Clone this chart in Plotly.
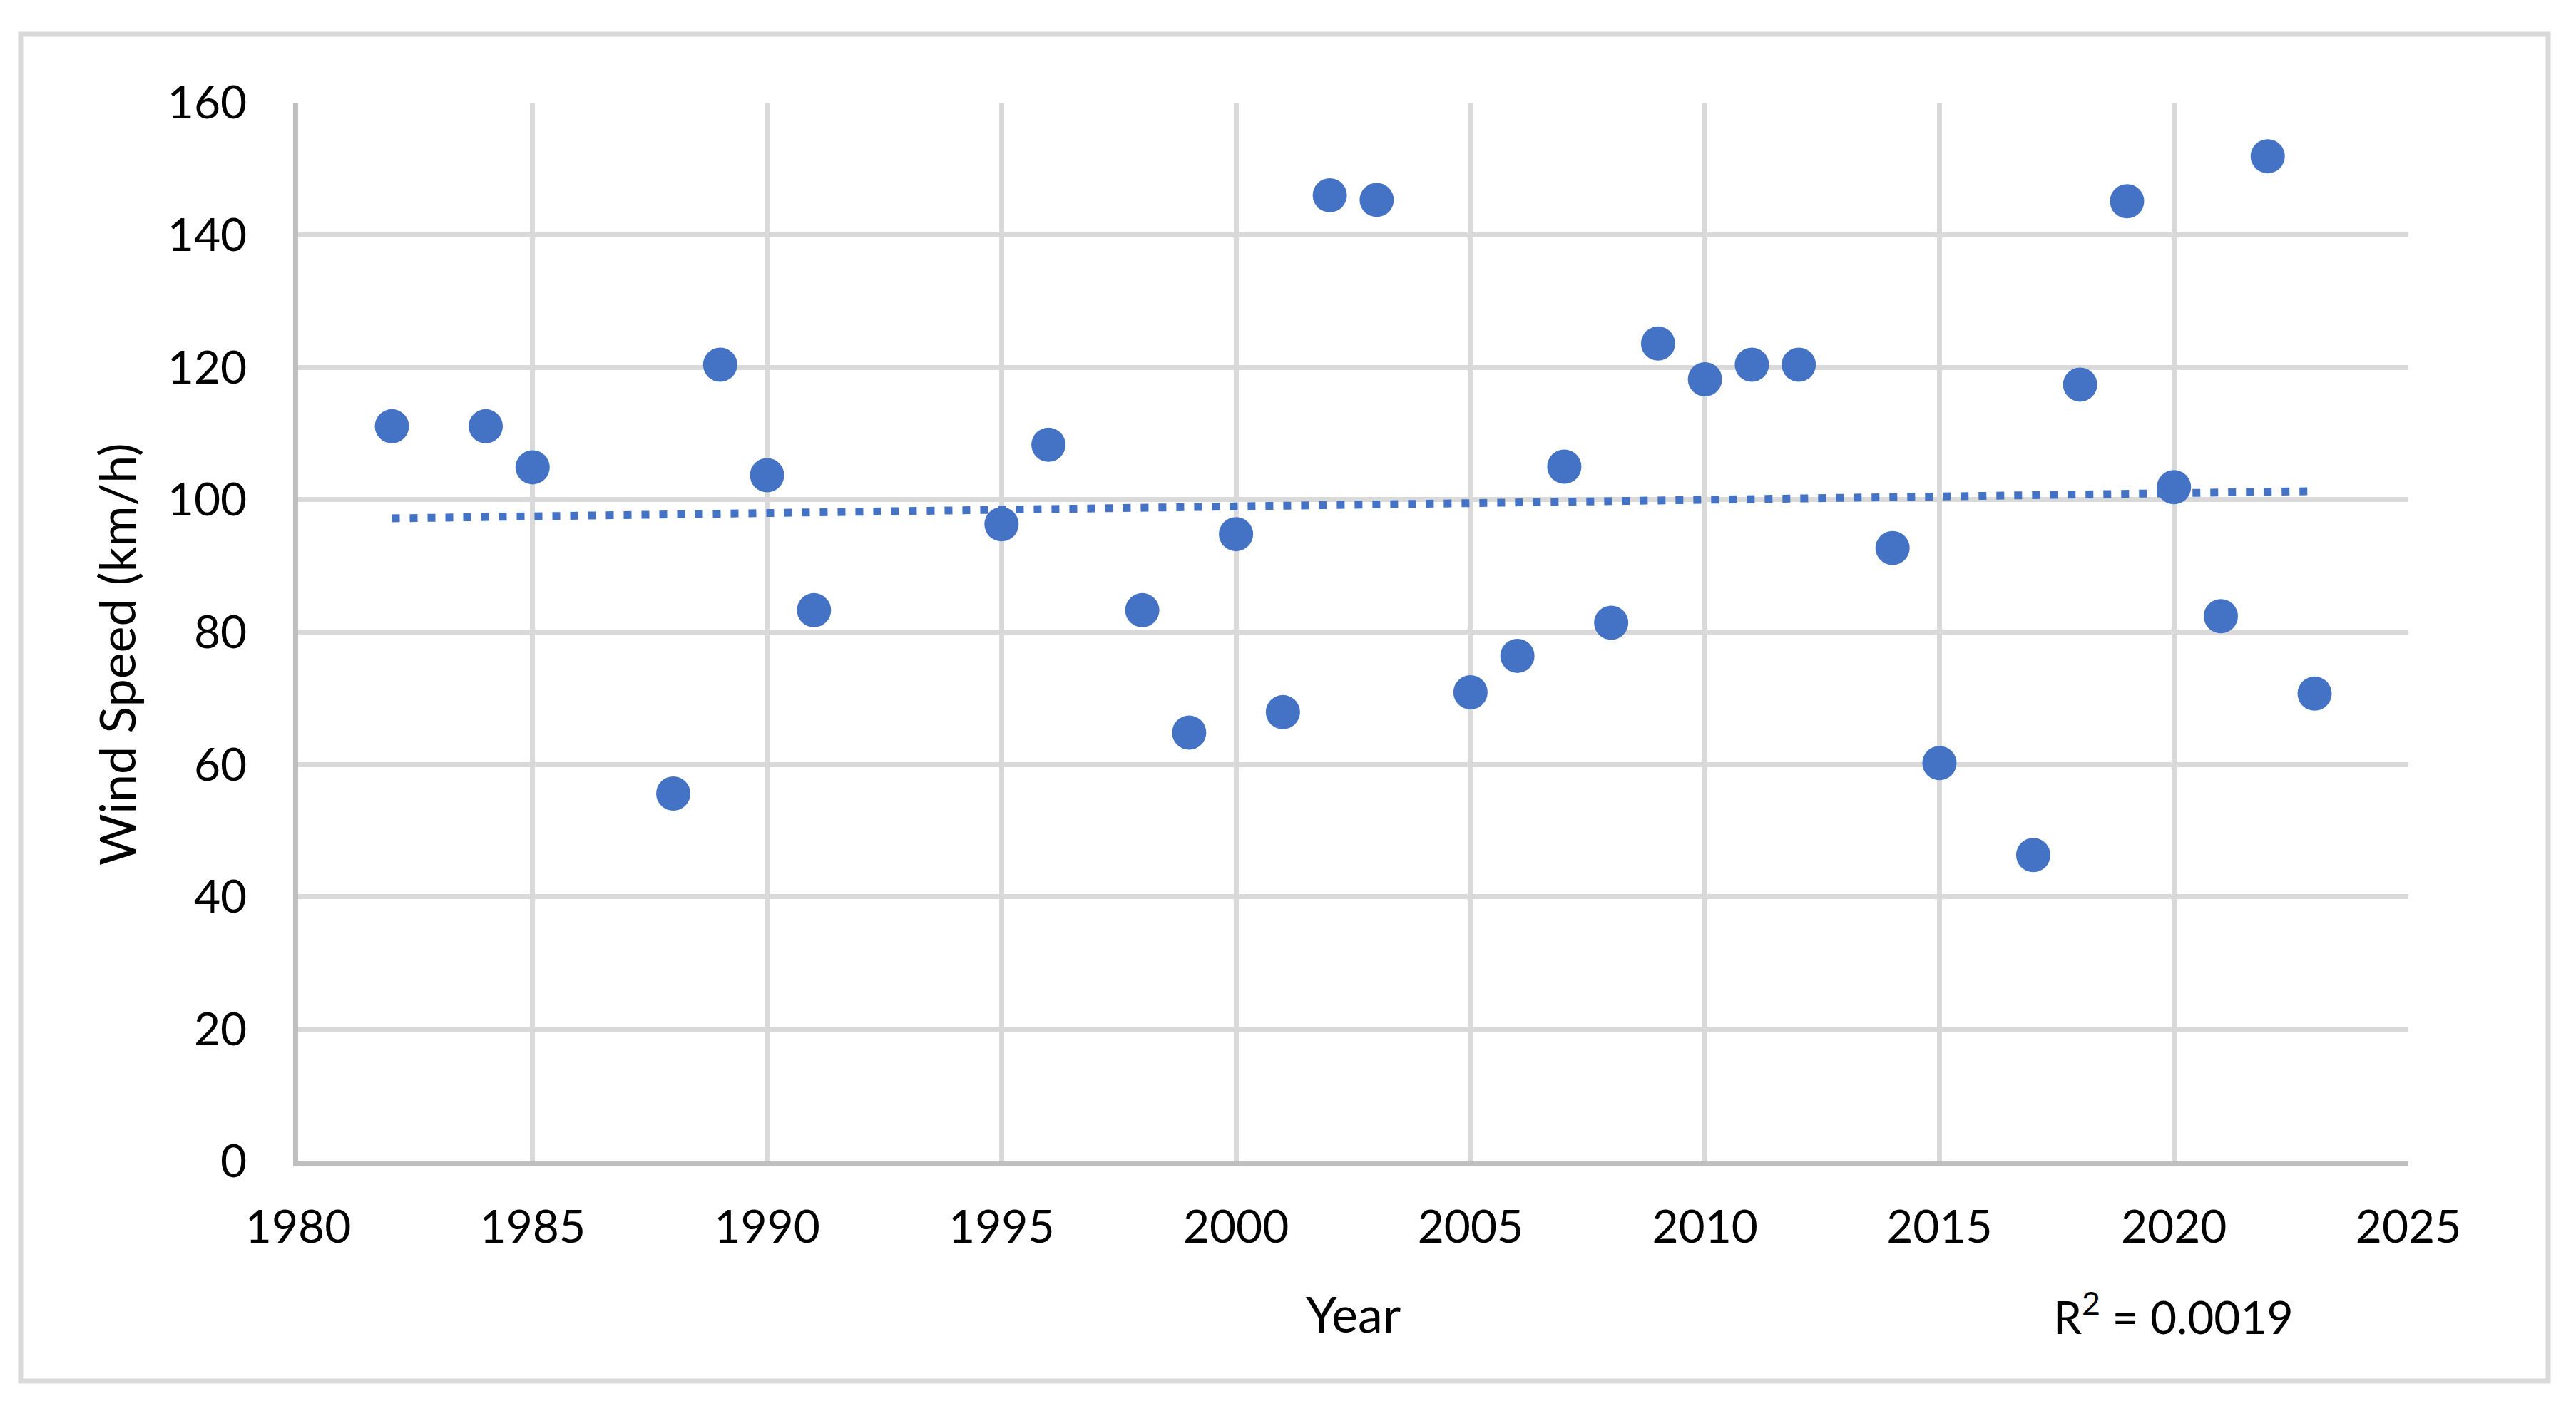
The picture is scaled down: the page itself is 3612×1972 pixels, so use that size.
import numpy as np
import plotly.graph_objects as go

# ---- data ----
years = [1982, 1984, 1985, 1988, 1989, 1990, 1991, 1995, 1996, 1998, 1999,
         2000, 2001, 2002, 2003, 2005, 2006, 2007, 2008, 2009, 2010, 2011,
         2012, 2014, 2015, 2017, 2018, 2019, 2020, 2021, 2022, 2023]
wind_speed = [111.1, 111.1, 104.9, 55.6, 120.4, 103.7, 83.3, 96.3, 108.3, 83.3, 64.8,
              94.8, 67.9, 146.0, 145.3, 70.9, 76.4, 105.0, 81.4, 123.6, 118.2, 120.4,
              120.4, 92.7, 60.2, 46.3, 117.4, 145.1, 101.9, 82.4, 151.9, 70.7]
x_ticks = [1980, 1985, 1990, 1995, 2000, 2005, 2010, 2015, 2020, 2025]
y_ticks = [0, 20, 40, 60, 80, 100, 120, 140, 160]
r2_label = "R<sup>2</sup> = 0.0019"
x_title = "Year"
y_title = "Wind Speed (km/h)"

# ---- layout geometry (screen pixels; page body has an 8px margin) ----
OFF = 8
W, H = 3612 - 2 * OFF, 1972 - 2 * OFF
PL, PR, PT, PB = 418 - OFF, 3377 - OFF, 144 - OFF, 1629 - OFF
BLUE = "#4472C4"
GRID = "#D9D9D9"
AXIS = "#BFBFBF"
FONT = "Lato"


def px_x(p):
    return (p - OFF - PL) / (PR - PL)


def px_y(p):
    return (PB - (p - OFF)) / (PB - PT)


# linear trend (least squares of the data)
slope, intercept = np.polyfit(years, wind_speed, 1)
trend_x = [min(years), max(years)]
trend_y = [slope * v + intercept for v in trend_x]

fig = go.Figure()
fig.add_trace(go.Scatter(
    x=trend_x, y=trend_y, mode="lines",
    line=dict(color=BLUE, width=11, dash="11px,14px"),
    hoverinfo="skip", showlegend=False,
))
fig.add_trace(go.Scatter(
    x=years, y=wind_speed, mode="markers",
    marker=dict(color=BLUE, size=48, line=dict(width=0)),
    showlegend=False,
))

fig.update_layout(
    width=W, height=H,
    margin=dict(l=PL, r=W - PR, t=PT, b=H - PB, pad=0),
    paper_bgcolor="white", plot_bgcolor="white",
    font=dict(family=FONT, size=64, color="black"),
    showlegend=False,
)
fig.update_xaxes(
    range=[1980, 2025], tickvals=x_ticks, ticktext=[str(t) for t in x_ticks],
    showgrid=True, gridcolor=GRID, gridwidth=7,
    showline=True, linecolor=AXIS, linewidth=7,
    zeroline=False, ticks="", ticklabelstandoff=30,
    tickfont=dict(family=FONT, size=64, color="black"),
)
fig.update_yaxes(
    range=[0, 160], tickvals=y_ticks, ticktext=[str(t) for t in y_ticks],
    showgrid=True, gridcolor=GRID, gridwidth=7,
    showline=True, linecolor=AXIS, linewidth=7,
    zeroline=False, ticks="", ticklabelstandoff=52,
    tickfont=dict(family=FONT, size=64, color="black"),
)

# outer chart border
fig.add_shape(type="rect", xref="paper", yref="paper",
              x0=px_x(29), x1=px_x(3573), y0=px_y(1937), y1=px_y(48),
              line=dict(color=GRID, width=7), fillcolor="rgba(0,0,0,0)",
              layer="below")

fig.add_annotation(text=x_title, xref="paper", yref="paper",
                   x=0.5, y=px_y(1842), xanchor="center", yanchor="middle",
                   showarrow=False, font=dict(family=FONT, size=70, color="black"))
fig.add_annotation(text=r2_label, xref="paper", yref="paper",
                   x=px_x(3047), y=px_y(1842), xanchor="center", yanchor="middle",
                   showarrow=False, font=dict(family=FONT, size=64, color="black"))
fig.add_annotation(text=y_title, xref="paper", yref="paper",
                   x=px_x(163), y=px_y(918), xanchor="center", yanchor="middle",
                   textangle=-90, showarrow=False,
                   font=dict(family=FONT, size=70, color="black"))

fig.write_html("out.html")
